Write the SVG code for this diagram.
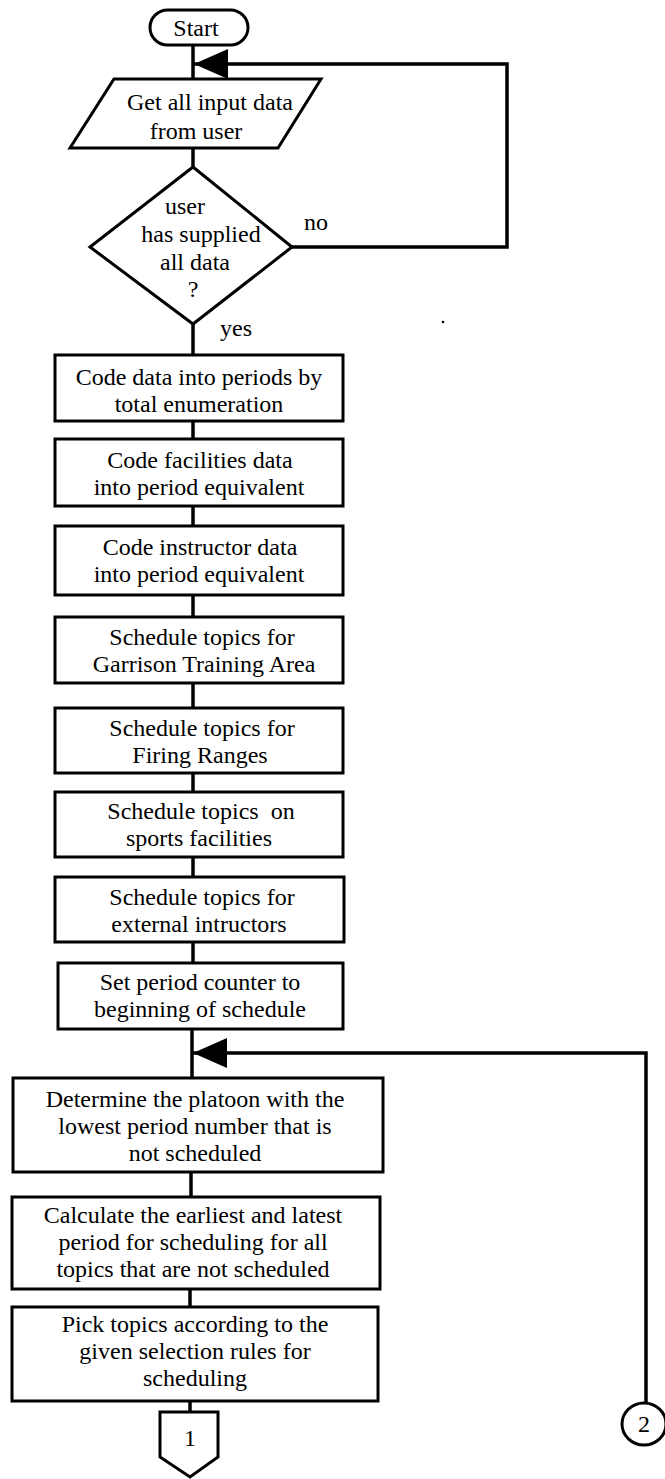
<svg xmlns="http://www.w3.org/2000/svg" width="665" height="1479" viewBox="0 0 665 1479">
<style>
  .shape { fill: #ffffff; stroke: #000000; stroke-width: 3; }
  .conn { fill: none; stroke: #000000; stroke-width: 3.5; }
  text { font-family: "Liberation Serif", "Times New Roman", serif; font-size: 24px; fill: #000000; text-anchor: middle; }
  .pre { white-space: pre; }
</style>
<defs>
  <marker id="arrow" markerUnits="userSpaceOnUse" viewBox="0 0 34 30" refX="34" refY="15" markerWidth="34" markerHeight="30" orient="auto">
    <path d="M0,0 L34,15 L0,30 Z" fill="#000000"/>
  </marker>
</defs>
<rect width="665" height="1479" fill="#ffffff"/>

<g id="connectors">
  <path class="conn" d="M193,45 V79"/>
  <path class="conn" d="M193,148 V167"/>
  <path class="conn" d="M193,324 V355"/>
  <path class="conn" d="M193,421 V439"/>
  <path class="conn" d="M193,506 V526"/>
  <path class="conn" d="M193,595 V617"/>
  <path class="conn" d="M193,683 V708"/>
  <path class="conn" d="M193,773 V792"/>
  <path class="conn" d="M193,857 V877"/>
  <path class="conn" d="M193,942 V963"/>
  <path class="conn" d="M192,1029 V1078"/>
  <path class="conn" d="M191,1172 V1197"/>
  <path class="conn" d="M190,1289 V1307"/>
  <path class="conn" d="M190,1401 V1412"/>
  <path class="conn" d="M292,247 H507 V64 H194" marker-end="url(#arrow)"/>
  <path class="conn" d="M646,1402 V1053 H193" marker-end="url(#arrow)"/>
  <text x="316" y="230">no</text>
  <text x="236" y="336">yes</text>
</g>

<g id="start">
  <rect class="shape" x="150" y="10" width="98" height="35" rx="17.5" ry="17.5"/>
  <text x="196" y="36">Start</text>
</g>

<g id="input">
  <polygon class="shape" points="114,79 321,79 278,148 70,148"/>
  <text x="210" y="110">Get all input data</text>
  <text x="196" y="139">from user</text>
</g>

<g id="decision">
  <polygon class="shape" points="193,167 292,247 193,324 90,247"/>
  <text x="185" y="214">user</text>
  <text x="201" y="242">has supplied</text>
  <text x="195" y="270">all data</text>
  <text x="193" y="297">?</text>
</g>

<g id="box1">
  <rect class="shape" x="55" y="355" width="288" height="66"/>
  <text x="199" y="385">Code data into periods by</text>
  <text x="199" y="412">total enumeration</text>
</g>

<g id="box2">
  <rect class="shape" x="55" y="439" width="288" height="67"/>
  <text x="200" y="468">Code facilities data</text>
  <text x="199" y="495">into period equivalent</text>
</g>

<g id="box3">
  <rect class="shape" x="55" y="526" width="288" height="69"/>
  <text x="200" y="555">Code instructor data</text>
  <text x="199" y="582">into period equivalent</text>
</g>

<g id="box4">
  <rect class="shape" x="55" y="617" width="288" height="66"/>
  <text x="202" y="645">Schedule topics for</text>
  <text x="204" y="672">Garrison Training Area</text>
</g>

<g id="box5">
  <rect class="shape" x="55" y="708" width="288" height="65"/>
  <text x="202" y="736">Schedule topics for</text>
  <text x="200" y="763">Firing Ranges</text>
</g>

<g id="box6">
  <rect class="shape" x="55" y="792" width="288" height="65"/>
  <text class="pre" x="201" y="819">Schedule topics  on</text>
  <text x="199" y="846">sports facilities</text>
</g>

<g id="box7">
  <rect class="shape" x="55" y="877" width="289" height="65"/>
  <text x="202" y="905">Schedule topics for</text>
  <text x="199" y="932">external intructors</text>
</g>

<g id="box8">
  <rect class="shape" x="58" y="963" width="285" height="66"/>
  <text x="200" y="990">Set period counter to</text>
  <text x="200" y="1017">beginning of schedule</text>
</g>

<g id="box9">
  <rect class="shape" x="13" y="1078" width="370" height="94"/>
  <text x="195" y="1107">Determine the platoon with the</text>
  <text x="195" y="1134">lowest period number that is</text>
  <text x="195" y="1161">not scheduled</text>
</g>

<g id="box10">
  <rect class="shape" x="12" y="1197" width="368" height="92"/>
  <text x="193" y="1223">Calculate the earliest and latest</text>
  <text x="193" y="1250">period for scheduling for all</text>
  <text x="193" y="1277">topics that are not scheduled</text>
</g>

<g id="box11">
  <rect class="shape" x="12" y="1307" width="366" height="94"/>
  <text x="195" y="1332">Pick topics according to the</text>
  <text x="195" y="1359">given selection rules for</text>
  <text x="195" y="1386">scheduling</text>
</g>

<g id="offpage1">
  <polygon class="shape" points="160,1412 218,1412 218,1457 190,1477 160,1457"/>
  <text x="190" y="1446">1</text>
</g>

<g id="connector2">
  <ellipse class="shape" cx="644" cy="1424" rx="22" ry="21"/>
  <text x="644" y="1432">2</text>
</g>

<circle cx="443" cy="322" r="1.3" fill="#000000"/>
</svg>
